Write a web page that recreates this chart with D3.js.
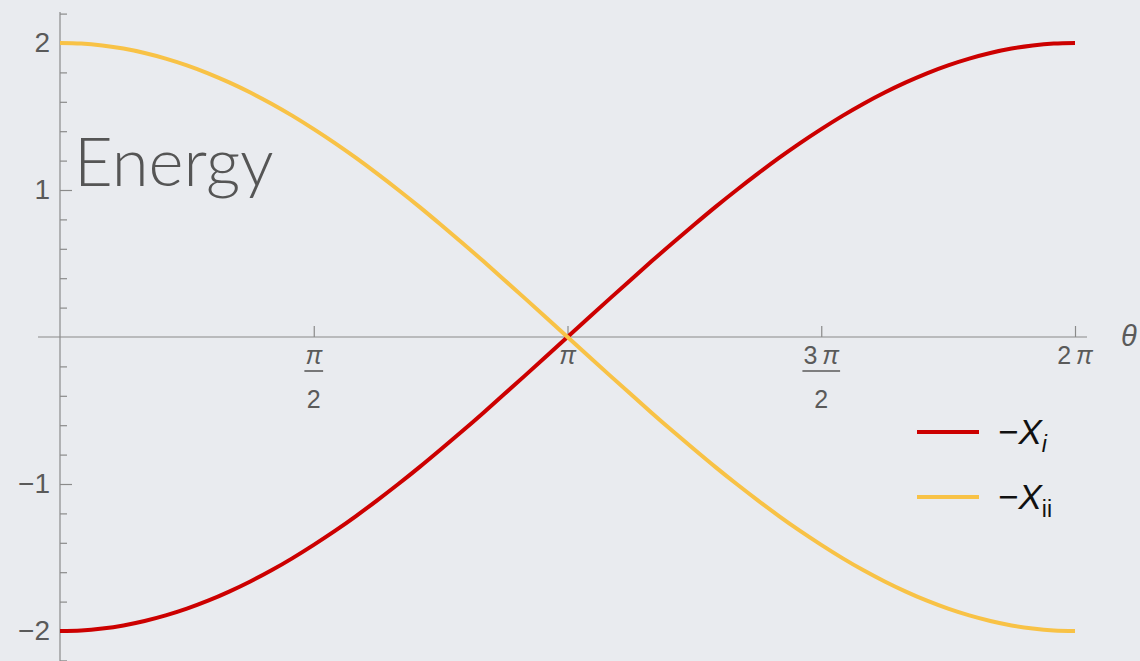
<!DOCTYPE html>
<html>
<head>
<meta charset="utf-8">
<script src="https://cdn.jsdelivr.net/npm/d3@7"></script>
<style>
  html, body { margin: 0; padding: 0; background: #e9ebef; }
  svg { display: block; }
</style>
</head>
<body>
<svg id="chart" width="1140" height="661"></svg>
<script>
// θ sample positions, in units of π (step π/24)
const thetaOverPi = [0, 0.0417, 0.0833, 0.125, 0.1667, 0.2083, 0.25, 0.2917, 0.3333, 0.375, 0.4167, 0.4583,
                     0.5, 0.5417, 0.5833, 0.625, 0.6667, 0.7083, 0.75, 0.7917, 0.8333, 0.875, 0.9167, 0.9583,
                     1, 1.0417, 1.0833, 1.125, 1.1667, 1.2083, 1.25, 1.2917, 1.3333, 1.375, 1.4167, 1.4583,
                     1.5, 1.5417, 1.5833, 1.625, 1.6667, 1.7083, 1.75, 1.7917, 1.8333, 1.875, 1.9167, 1.9583, 2];
// energy of branch −X_i
const negXi = [-2.000, -1.996, -1.983, -1.962, -1.932, -1.894, -1.848, -1.794, -1.732, -1.663, -1.587, -1.504,
               -1.414, -1.319, -1.218, -1.111, -1.000, -0.885, -0.765, -0.643, -0.518, -0.390, -0.261, -0.131,
                0.000, 0.131, 0.261, 0.390, 0.518, 0.643, 0.765, 0.885, 1.000, 1.111, 1.218, 1.319,
                1.414, 1.504, 1.587, 1.663, 1.732, 1.794, 1.848, 1.894, 1.932, 1.962, 1.983, 1.996, 2.000];
// energy of branch −X_ii
const negXii = [2.000, 1.996, 1.983, 1.962, 1.932, 1.894, 1.848, 1.794, 1.732, 1.663, 1.587, 1.504,
                1.414, 1.319, 1.218, 1.111, 1.000, 0.885, 0.765, 0.643, 0.518, 0.390, 0.261, 0.131,
                0.000, -0.131, -0.261, -0.390, -0.518, -0.643, -0.765, -0.885, -1.000, -1.111, -1.218, -1.319,
                -1.414, -1.504, -1.587, -1.663, -1.732, -1.794, -1.848, -1.894, -1.932, -1.962, -1.983, -1.996, -2.000];
const xTickValues = [0.5, 1, 1.5, 2];           // multiples of π
const xTickNumer = ["π", "π", "3 π", "2 π"];
const xTickDenom = ["2", "", "2", ""];
const yMajorTicks = [-2, -1, 1, 2];
const yMinorTicks = [-2.2, -1.8, -1.6, -1.4, -1.2, -0.8, -0.6, -0.4, -0.2, 0.2, 0.4, 0.6, 0.8, 1.2, 1.4, 1.6, 1.8, 2.2];
const seriesNames = ["Xi", "Xii"];
const seriesColors = ["#cc0000", "#f8c246"];

const svg = d3.select("#chart");
const x = d3.scaleLinear().domain([0, 2]).range([60, 1075]);
const y = d3.scaleLinear().domain([-2, 2]).range([631, 43]);
const axisColor = "#8a8a8a";
const labelColor = "#5a5a5a";
const labelFont = "'Liberation Sans', Arial, sans-serif";

// y axis line spans beyond the data range
svg.append("line")
  .attr("x1", x(0)).attr("x2", x(0))
  .attr("y1", 12).attr("y2", 661)
  .attr("stroke", axisColor).attr("stroke-width", 1.2);

// y minor ticks
const yMinor = svg.append("g").attr("transform", `translate(${x(0)},0)`)
  .call(d3.axisLeft(y).tickValues(yMinorTicks).tickSize(-7).tickFormat(""));
// y major ticks
const yMajor = svg.append("g").attr("transform", `translate(${x(0)},0)`)
  .call(d3.axisLeft(y).tickValues(yMajorTicks).tickSize(-12).tickPadding(10)
        .tickFormat(d => d < 0 ? "\u2212" + Math.abs(d) : String(d)));
[yMinor, yMajor].forEach(g => {
  g.select(".domain").remove();
  g.selectAll("line").attr("stroke", axisColor).attr("stroke-width", 1.2);
  g.selectAll("text").attr("fill", labelColor).attr("font-family", labelFont).attr("font-size", 28);
});

// x axis line
svg.append("line")
  .attr("x1", 38).attr("x2", 1087)
  .attr("y1", y(0)).attr("y2", y(0))
  .attr("stroke", axisColor).attr("stroke-width", 1.2);

const xAxisG = svg.append("g").attr("transform", `translate(0,${y(0)})`)
  .call(d3.axisBottom(x).tickValues(xTickValues).tickSize(-11).tickFormat(""));
xAxisG.select(".domain").remove();
xAxisG.selectAll("line").attr("stroke", axisColor).attr("stroke-width", 1.2);

// fraction-style tick labels in multiples of π
xTickValues.forEach((v, i) => {
  const g = svg.append("g").attr("transform", `translate(${x(v)},${y(0)})`)
    .attr("fill", labelColor).attr("font-family", labelFont).attr("font-size", 25);
  const numer = g.append("text").attr("text-anchor", "middle").attr("y", 27);
  const parts = xTickNumer[i].split(" ");
  parts.forEach((p, j) => {
    numer.append("tspan").text((j > 0 ? "\u2009" : "") + p)
      .attr("font-style", p === "π" ? "italic" : "normal");
  });
  if (xTickDenom[i]) {
    const w = numer.node().getComputedTextLength();
    g.append("line").attr("x1", -w / 2 - 1).attr("x2", w / 2 + 1)
      .attr("y1", 34).attr("y2", 34).attr("stroke", labelColor).attr("stroke-width", 1.6);
    g.append("text").attr("text-anchor", "middle").attr("y", 71).text(xTickDenom[i]);
  }
});

// θ axis label
svg.append("text").attr("x", 1121).attr("y", y(0) + 9)
  .attr("fill", labelColor).attr("font-family", labelFont).attr("font-size", 29)
  .attr("font-style", "italic").text("θ");

// smooth curves through the sampled values
const line = d3.line()
  .x((d, i) => x(thetaOverPi[i]))
  .y(d => y(d))
  .curve(d3.curveNatural);

[negXi, negXii].forEach((vals, k) => {
  svg.append("path").datum(vals)
    .attr("d", line)
    .attr("fill", "none")
    .attr("stroke", seriesColors[k])
    .attr("stroke-width", 4)
    .attr("stroke-linecap", "butt");
});

// title
svg.append("text").attr("x", 74).attr("y", 186)
  .attr("fill", "#555").attr("font-family", "Lato, sans-serif").attr("font-weight", 300)
  .attr("font-size", 67).text("Energy");

// legend
const legendY = [432, 497];
seriesNames.forEach((name, k) => {
  svg.append("line").attr("x1", 917).attr("x2", 979)
    .attr("y1", legendY[k]).attr("y2", legendY[k])
    .attr("stroke", seriesColors[k]).attr("stroke-width", 4);
  const t = svg.append("text").attr("x", 998).attr("y", legendY[k] + 12)
    .attr("fill", "#111").attr("font-family", labelFont).attr("font-size", 35);
  t.append("tspan").text("\u2212");
  t.append("tspan").attr("font-style", "italic").text("X");
  t.append("tspan").attr("dy", 8).attr("font-size", 23)
    .attr("font-style", k === 0 ? "italic" : "normal")
    .text(k === 0 ? "i" : "ii");
});
</script>
</body>
</html>
